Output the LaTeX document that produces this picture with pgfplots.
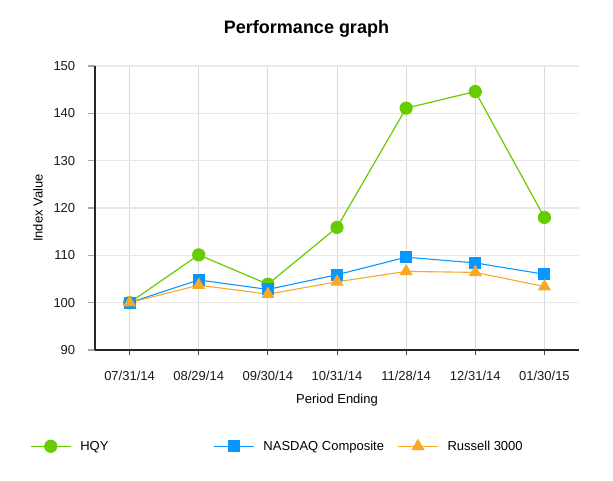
\documentclass[border=0pt]{standalone}
\usepackage{pgfplots}
\pgfplotsset{compat=1.18}
\usepackage{fontspec}
\setmainfont{Liberation Sans}
\definecolor{cgreen}{HTML}{66CC00}
\definecolor{cblue}{HTML}{0A96FF}
\definecolor{corange}{HTML}{F9A825}
\definecolor{gridh}{HTML}{E8E8E8}
\definecolor{gridv}{HTML}{DADADA}
\begin{document}
\begin{tikzpicture}
\path[use as bounding box] (0,0) rectangle (613pt,480pt);
\begin{axis}[
  at={(95pt,130pt)}, anchor=south west,
  scale only axis, width=484pt, height=284pt,
  xmin=-0.5, xmax=6.5, ymin=90, ymax=150,
  xtick={0,1,2,3,4,5,6},
  xticklabels={07/31/14,08/29/14,09/30/14,10/31/14,11/28/14,12/31/14,01/30/15},
  ytick={90,100,110,120,130,140,150},
  axis x line*=bottom, axis y line*=left,
  axis line style={line width=1.6pt, color=black!85, -},
  tick align=outside,
  xtick style={color=black!70, line width=0.8pt, /pgfplots/major tick length=5pt},
  ytick style={color=black!35, line width=1.2pt, /pgfplots/major tick length=7pt},
  xmajorgrids, ymajorgrids,
  major x grid style={color=gridv, line width=0.8pt},
  major y grid style={color=gridh, line width=1.4pt},
  /pgf/number format/assume math mode=true,
  ticklabel style={font=\fontsize{13}{15}\selectfont, color=black!90},
  xticklabel style={anchor=center, yshift=-22pt},
  yticklabel style={anchor=east, xshift=-12pt},
  title={Performance graph},
  title style={at={(axis description cs:0.437,1.109)}, anchor=center, font=\bfseries\fontsize{18}{21}\selectfont},
  xlabel={Period Ending},
  xlabel style={at={(axis description cs:0.5,-0.176)}, anchor=center, font=\fontsize{13}{15}\selectfont},
  ylabel={Index Value},
  ylabel style={at={(axis description cs:-0.118,0.5)}, anchor=center, font=\fontsize{13}{15}\selectfont},
  legend columns=3,
  legend style={at={(axis description cs:-0.134,-0.338)}, anchor=west, draw=none, fill=none,
    inner sep=0pt, outer sep=0pt, column sep=0pt, row sep=0pt,
    nodes={inner sep=0pt, outer sep=0pt}, font=\fontsize{13}{15}\selectfont},
  legend cell align=left,
  legend image code/.code={\draw[mark repeat=2,mark phase=2] plot coordinates {(0pt,0pt) (20pt,0pt) (40pt,0pt)};},
]
\addplot[color=cgreen, line width=1.2pt, mark=*, mark size=6pt, mark options={fill=cgreen, draw=none}]
  coordinates {(0,100) (1,110.1) (2,103.9) (3,115.9) (4,141.1) (5,144.6) (6,118.0)};
\addlegendentry{\makebox[142pt][l]{\hspace{9pt}HQY}}
\addplot[color=cblue, line width=1.1pt, mark=square*, mark size=5.5pt, mark options={fill=cblue, draw=none}]
  coordinates {(0,100) (1,104.8) (2,102.8) (3,105.9) (4,109.6) (5,108.4) (6,106.0)};
\addlegendentry{\makebox[143pt][l]{\hspace{9pt}NASDAQ Composite}}
\addplot[color=corange, line width=1.1pt, mark=triangle*, mark size=6.5pt, mark options={fill=corange, draw=none}]
  coordinates {(0,100) (1,103.7) (2,101.8) (3,104.4) (4,106.6) (5,106.4) (6,103.4)};
\addlegendentry{\makebox[100pt][l]{\hspace{9pt}Russell 3000}}
\end{axis}
\end{tikzpicture}
\end{document}
